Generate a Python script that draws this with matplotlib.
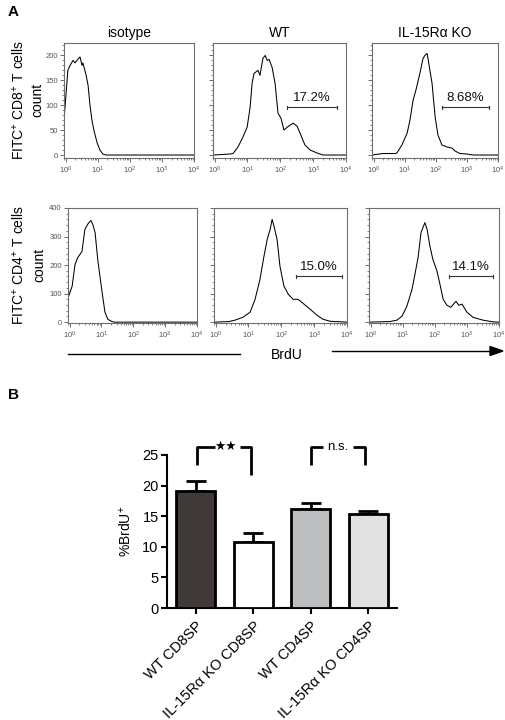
import numpy as np
import matplotlib
matplotlib.use('Agg')
import matplotlib.pyplot as plt
from matplotlib.ticker import LogLocator, MultipleLocator, NullFormatter, FixedLocator, FixedFormatter

plt.rcParams['font.family'] = ['Liberation Sans', 'DejaVu Sans']
plt.rcParams['mathtext.fontset'] = 'custom'
plt.rcParams['mathtext.rm'] = 'Liberation Sans'
plt.rcParams['mathtext.it'] = 'Liberation Sans:italic'
plt.rcParams['mathtext.bf'] = 'Liberation Sans:bold'

# ---------------- data ----------------
# histograms: log10(BrdU intensity) and cell counts
cd8_iso_log = [-0.05, -0.04, 0.07, 0.14, 0.23, 0.29, 0.39, 0.45, 0.51, 0.54, 0.64, 0.70, 0.76, 0.82, 0.88, 0.98, 1.07, 1.16, 1.26, 4.0]
cd8_iso_cnt = [188, 78, 170, 180, 190, 185, 193, 197, 180, 185, 160, 140, 100, 70, 50, 25, 10, 2, 0, 0]

cd8_wt_log = [-0.05, 0.47, 0.56, 0.71, 0.86, 0.99, 1.08, 1.14, 1.20, 1.32, 1.38, 1.47, 1.54, 1.60, 1.66, 1.75, 1.84, 1.93, 2.02, 2.11, 2.21, 2.30, 2.39, 2.51, 2.60, 2.75, 2.91, 3.12, 3.30, 4.0]
cd8_wt_cnt = [0, 2, 3, 16, 36, 56, 96, 144, 164, 170, 160, 194, 200, 190, 192, 176, 144, 84, 74, 50, 56, 60, 64, 58, 44, 20, 10, 4, 0, 0]

cd8_ko_log = [-0.05, 0.30, 0.69, 0.75, 0.91, 1.08, 1.17, 1.27, 1.36, 1.49, 1.59, 1.65, 1.72, 1.75, 1.88, 1.98, 2.07, 2.20, 2.36, 2.52, 2.62, 2.78, 3.00, 3.20, 4.0]
cd8_ko_cnt = [0, 3, 3, 4, 20, 44, 70, 110, 130, 164, 194, 200, 204, 194, 144, 76, 40, 20, 16, 14, 8, 3, 2, 0, 0]

cd4_iso_log = [-0.05, -0.03, 0.08, 0.17, 0.26, 0.39, 0.48, 0.58, 0.67, 0.73, 0.80, 0.89, 1.02, 1.11, 1.20, 1.33, 1.42, 4.0]
cd4_iso_cnt = [220, 91, 126, 202, 227, 248, 325, 345, 356, 342, 314, 213, 105, 35, 10, 2, 0, 0]

cd4_wt_log = [-0.05, 0.40, 0.59, 0.83, 1.05, 1.20, 1.35, 1.47, 1.57, 1.66, 1.72, 1.78, 1.87, 1.96, 2.08, 2.21, 2.36, 2.51, 2.66, 2.88, 3.09, 3.27, 3.49, 4.0]
cd4_wt_cnt = [0, 2, 7, 17, 35, 80, 150, 230, 290, 325, 360, 335, 290, 195, 126, 98, 80, 80, 66, 45, 24, 10, 3, 0]

cd4_ko_log = [-0.05, 0.60, 0.82, 0.98, 1.13, 1.29, 1.38, 1.48, 1.57, 1.63, 1.69, 1.76, 1.85, 1.94, 2.07, 2.16, 2.26, 2.38, 2.50, 2.66, 2.75, 2.85, 3.00, 3.19, 3.50, 3.81, 4.0]
cd4_ko_cnt = [0, 2, 7, 21, 56, 115, 167, 227, 314, 331, 349, 325, 265, 220, 178, 133, 80, 59, 52, 73, 59, 63, 35, 17, 7, 1, 0]

# gates: (log start, log end, count level, label)
gate_cd8_wt = (2.2, 3.73, 96, '17.2%')
gate_cd8_ko = (2.2, 3.71, 96, '8.68%')
gate_cd4_wt = (2.45, 3.85, 161, '15.0%')
gate_cd4_ko = (2.44, 3.81, 161, '14.1%')

col_titles = ['isotype', 'WT', 'IL-15Rα KO']

# bar chart
groups = ['WT CD8SP', 'IL-15Rα KO CD8SP', 'WT CD4SP', 'IL-15Rα KO CD4SP']
brdu_mean = [19.1, 10.8, 16.1, 15.4]
brdu_sem = [1.7, 1.4, 1.1, 0.5]
bar_colors = ['#3f3a38', '#ffffff', '#bcbdbf', '#e1e1e1']

# ---------------- layout helpers ----------------
W, H = 505, 720
fig = plt.figure(figsize=(W / 100, H / 100), dpi=100)

def rect(x0, y0, x1, y1):
    return [x0 / W, 1 - y1 / H, (x1 - x0) / W, (y1 - y0) / H]

def fx(x):
    return x / W

def fy(y):
    return 1 - y / H

FRAME = '#6e6e6e'
TICKC = '#555555'

def hist_axes(r, logs, cnts, ylim, major, minor, ylabels, gate=None):
    ax = fig.add_axes(r)
    ax.plot(10 ** np.array(logs), cnts, color='black', lw=0.75)
    ax.set_xscale('log')
    ax.set_xlim(10 ** -0.05, 10 ** 4)
    ax.set_ylim(*ylim)
    for s in ax.spines.values():
        s.set_color(FRAME)
        s.set_linewidth(0.8)
    ax.xaxis.set_major_locator(FixedLocator([1, 10, 100, 1000, 10000]))
    ax.xaxis.set_major_formatter(FixedFormatter([r'$10^{%d}$' % i for i in range(5)]))
    ax.xaxis.set_minor_locator(LogLocator(base=10, subs=np.arange(2, 10), numticks=20))
    ax.xaxis.set_minor_formatter(NullFormatter())
    ax.yaxis.set_major_locator(MultipleLocator(major))
    ax.yaxis.set_minor_locator(MultipleLocator(minor))
    if not ylabels:
        ax.yaxis.set_major_formatter(NullFormatter())
    ax.tick_params(which='major', direction='out', length=3, width=0.6, color=TICKC,
                   labelsize=5.5, labelcolor=TICKC, pad=1.5)
    ax.tick_params(which='minor', direction='out', length=1.6, width=0.5, color=TICKC)
    ax.tick_params(axis='x', which='major', pad=2)
    if gate is not None:
        g0, g1, gy, lab = gate
        x0, x1 = 10 ** g0, 10 ** g1
        ax.plot([x0, x1], [gy, gy], color='#333333', lw=0.8)
        ax.plot([x0, x0], [gy - 0.012 * (ylim[1] - ylim[0]), gy + 0.012 * (ylim[1] - ylim[0])], color='#333333', lw=0.8)
        ax.plot([x1, x1], [gy - 0.012 * (ylim[1] - ylim[0]), gy + 0.012 * (ylim[1] - ylim[0])], color='#333333', lw=0.8)
        ax.annotate(lab, xy=(10 ** ((g0 + g1) / 2), gy), xytext=(0, 2.5), textcoords='offset points',
                    ha='center', va='bottom', fontsize=9.5, color='#111111')
    return ax

# top row (CD8)
ax1 = hist_axes(rect(64, 43, 194, 158), cd8_iso_log, cd8_iso_cnt, (-6, 225), 50, 10, True)
ax2 = hist_axes(rect(213, 43, 346, 158), cd8_wt_log, cd8_wt_cnt, (-6, 225), 50, 10, False, gate_cd8_wt)
ax3 = hist_axes(rect(372, 43, 498, 158), cd8_ko_log, cd8_ko_cnt, (-6, 225), 50, 10, False, gate_cd8_ko)
# bottom row (CD4)
ax4 = hist_axes(rect(68, 208, 197, 323), cd4_iso_log, cd4_iso_cnt, (-3, 400), 100, 20, True)
ax5 = hist_axes(rect(214, 208, 347, 323), cd4_wt_log, cd4_wt_cnt, (-3, 400), 100, 20, False, gate_cd4_wt)
ax6 = hist_axes(rect(369, 208, 499, 323), cd4_ko_log, cd4_ko_cnt, (-3, 400), 100, 20, False, gate_cd4_ko)

for ax, t in zip([ax1, ax2, ax3], col_titles):
    ax.set_title(t, fontsize=10, pad=4)

# row labels
fig.text(fx(19), fy(100), r'FITC$^{+}$ CD8$^{+}$ T cells', rotation=90, ha='center', va='center', fontsize=10)
fig.text(fx(37), fy(100), 'count', rotation=90, ha='center', va='center', fontsize=10)
fig.text(fx(19), fy(265), r'FITC$^{+}$ CD4$^{+}$ T cells', rotation=90, ha='center', va='center', fontsize=10)
fig.text(fx(39), fy(265), 'count', rotation=90, ha='center', va='center', fontsize=10)

# BrdU axis annotation
fig.add_artist(plt.Line2D([fx(68), fx(240)], [fy(354), fy(354)], color='black', lw=1.0))
fig.text(fx(287), fy(355), 'BrdU', ha='center', va='center', fontsize=10)
fig.add_artist(plt.Line2D([fx(332), fx(492)], [fy(351), fy(351)], color='black', lw=1.0))
fig.add_artist(matplotlib.patches.Polygon([[fx(490), fy(346.5)], [fx(503), fy(351)], [fx(490), fy(355.5)]],
                                          closed=True, color='black', transform=fig.transFigure))

# panel letters
fig.text(fx(8), fy(12), 'A', fontsize=11, fontweight='bold', ha='left', va='center')
fig.text(fx(8), fy(395), 'B', fontsize=11, fontweight='bold', ha='left', va='center')

# ---------------- bar chart ----------------
axb = fig.add_axes(rect(167, 455, 397, 608))
xpos = np.arange(len(groups))
axb.bar(xpos, brdu_mean, width=0.67, color=bar_colors, edgecolor='black', linewidth=2, zorder=3)
axb.errorbar(xpos, brdu_mean, yerr=[np.zeros(len(groups)), brdu_sem], fmt='none', ecolor='black',
             elinewidth=2, capsize=7, capthick=2, zorder=2)
axb.set_xlim(-0.5, 3.5)
axb.set_ylim(0, 25)
axb.set_yticks([0, 5, 10, 15, 20, 25])
axb.set_xticks(xpos)
axb.set_xticklabels(groups, rotation=45, ha='right', va='top', rotation_mode='anchor', fontsize=10)
axb.spines['top'].set_visible(False)
axb.spines['right'].set_visible(False)
axb.spines['left'].set_linewidth(1.5)
axb.spines['bottom'].set_linewidth(1.5)
axb.tick_params(direction='out', length=4, width=1.5, labelsize=10.5, pad=2)
axb.tick_params(axis='x', pad=4)
axb.set_ylabel(r'%BrdU$^{+}$', fontsize=10, labelpad=6)

# significance brackets
def bracket(ax, xl, xr, y_top, yl, yr, xl_end, xr_start, label, xtext, size):
    kw = dict(color='black', lw=2, clip_on=False, solid_capstyle='butt')
    ax.plot([xl, xl, xl_end], [yl, y_top, y_top], **kw)
    ax.plot([xr_start, xr, xr], [y_top, y_top, yr], **kw)
    ax.text(xtext, y_top, label, ha='center', va='center', fontsize=size, clip_on=False)

bracket(axb, 0.03, 0.96, 26.3, 23.4, 21.7, 0.33, 0.77, '★★', 0.52, 9)
bracket(axb, 2.0, 2.94, 26.3, 23.4, 23.4, 2.21, 2.74, 'n.s.', 2.47, 9.5)

fig.savefig('out.png', dpi=100)
